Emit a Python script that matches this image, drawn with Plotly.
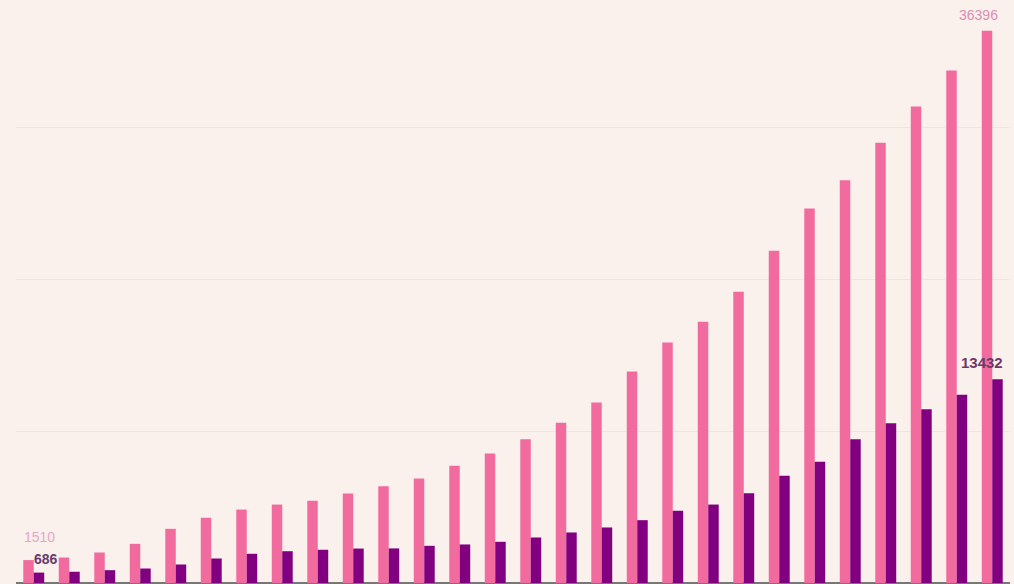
import plotly.graph_objects as go

categories = [str(y) for y in range(1990, 2018)]
series_a = [1510, 1680, 2010, 2580, 3570, 4300, 4840, 5170, 5420, 5900,
            6380, 6890, 7720, 8530, 9480, 10560, 11900, 13940, 15850, 17210,
            19190, 21890, 24680, 26545, 29010, 31400, 33770, 36396]
series_b = [686, 740, 845, 955, 1220, 1615, 1925, 2095, 2190, 2270,
            2280, 2450, 2540, 2715, 3000, 3330, 3660, 4140, 4760, 5170,
            5920, 7060, 7990, 9480, 10530, 11450, 12400, 13432]
grid_values = [10000, 20000, 30000]

PINK = "#f26b9f"
PURPLE = "#800080"
BG = "#faf0ec"
FONT = "Arial, Liberation Sans"

fig = go.Figure()
fig.add_trace(go.Bar(x=categories, y=series_a, marker=dict(color=PINK, line=dict(width=0)),
                     name="A", hoverinfo="x+y"))
fig.add_trace(go.Bar(x=categories, y=series_b, marker=dict(color=PURPLE, line=dict(width=0)),
                     name="B", hoverinfo="x+y"))

n = len(categories)
fig.add_annotation(x=0, y=series_a[0], text=str(series_a[0]), showarrow=False,
                   xref="x", yref="y", xshift=6, yshift=23,
                   font=dict(family=FONT, size=14, color="#e9a6c6"))
fig.add_annotation(x=0, y=series_b[0], text="<b>%d</b>" % series_b[0], showarrow=False,
                   xref="x", yref="y", xshift=12, yshift=14,
                   font=dict(family=FONT, size=14, color="#6b3a6b"))
fig.add_annotation(x=n - 1, y=series_a[-1], text=str(series_a[-1]), showarrow=False,
                   xref="x", yref="y", xshift=-14, yshift=16,
                   font=dict(family=FONT, size=14, color="#d98db6"))
fig.add_annotation(x=n - 1, y=series_b[-1], text="<b>%d</b>" % series_b[-1], showarrow=False,
                   xref="x", yref="y", xshift=-10, yshift=17,
                   font=dict(family=FONT, size=15, color="#6b3a6b"))

fig.update_layout(
    width=1014, height=584,
    margin=dict(l=16, r=4, t=0, b=0),
    paper_bgcolor=BG, plot_bgcolor=BG,
    barmode="group", bargap=0.41, bargroupgap=0,
    showlegend=False,
    xaxis=dict(type="category", showticklabels=False, showgrid=False, ticks="",
               showline=False, range=[-0.5, n - 0.5]),
    yaxis=dict(range=[-66, 38420], tickvals=grid_values, showticklabels=False,
               showgrid=True, gridcolor="#f1e3df", gridwidth=1,
               zeroline=True, zerolinecolor="#777777", zerolinewidth=2, ticks=""),
)

fig.write_html("out.html")
